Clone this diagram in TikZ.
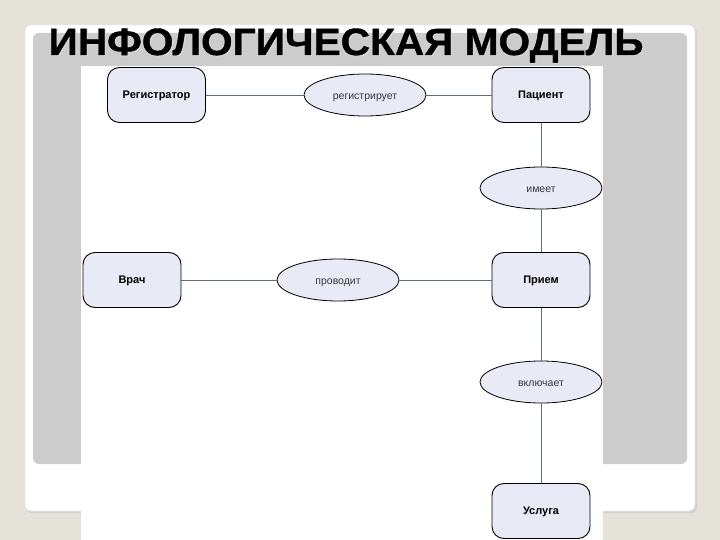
\documentclass[tikz,border=0pt]{standalone}
\usepackage{fontspec}
\setmainfont{Liberation Sans}
\newfontfamily\headfont[FakeStretch=1.07,FakeBold=1]{Liberation Sans Bold}
\usetikzlibrary{shapes.geometric}

\definecolor{bgbeige}{RGB}{229,226,217}
\definecolor{panelgray}{RGB}{204,204,204}
\definecolor{boxfill}{RGB}{232,234,246}
\definecolor{linkgray}{RGB}{95,110,120}
\definecolor{relgray}{RGB}{55,55,60}

\begin{document}
\begin{tikzpicture}[x=1pt,y=-1pt,
    entity/.style={draw=black,line width=0.9pt,fill=boxfill,rounded corners=12pt,
      minimum width=98pt,minimum height=55pt,inner sep=0pt,
      text height=1.3ex,text depth=0pt,
      font=\bfseries\fontsize{11}{13}\selectfont},
    relation/.style={draw=black,line width=0.8pt,ellipse,fill=boxfill,
      minimum width=122pt,minimum height=42pt,inner sep=0pt,text=relgray,
      text height=1.8ex,text depth=0pt,
      font=\fontsize{10.5}{12}\selectfont},
    link/.style={draw=linkgray,line width=0.8pt},
    heading/.style={anchor=base,font=\headfont\fontsize{38}{40}\selectfont}]
  \useasboundingbox (0,0) rectangle (720,540);
  % slide
  \fill[bgbeige] (0,0) rectangle (720,540);
  \fill[gray!35,rounded corners=6pt] (26,27) rectangle (697,513);
  \filldraw[white,draw=gray!25,rounded corners=6pt] (25,25) rectangle (695,511);
  \fill[panelgray,rounded corners=6pt] (33,33) rectangle (687,464);
  \node[heading,text=gray!30] at (347,56) {ИНФОЛОГИЧЕСКАЯ МОДЕЛЬ};
  \node[heading] (title) at (346,55) {ИНФОЛОГИЧЕСКАЯ МОДЕЛЬ};
  \fill[white] (81,66) rectangle (603,540);
  % entities
  \node[entity] (reg) at (156.5,95) {Регистратор};
  \node[entity] (pat) at (541,95) {Пациент};
  \node[entity] (doc) at (132,280) {Врач};
  \node[entity] (visit) at (541,280) {Прием};
  \node[entity] (serv) at (541,511) {Услуга};
  % relations
  \node[relation] (registers) at (365,95) {регистрирует};
  \node[relation] (has) at (541,188) {имеет};
  \node[relation] (conducts) at (338,280) {проводит};
  \node[relation] (includes) at (541,382) {включает};
  \draw[link] (reg) -- (registers) -- (pat);
  \draw[link] (pat) -- (has) -- (visit);
  \draw[link] (doc) -- (conducts) -- (visit);
  \draw[link] (visit) -- (includes) -- (serv);
\end{tikzpicture}
\end{document}
